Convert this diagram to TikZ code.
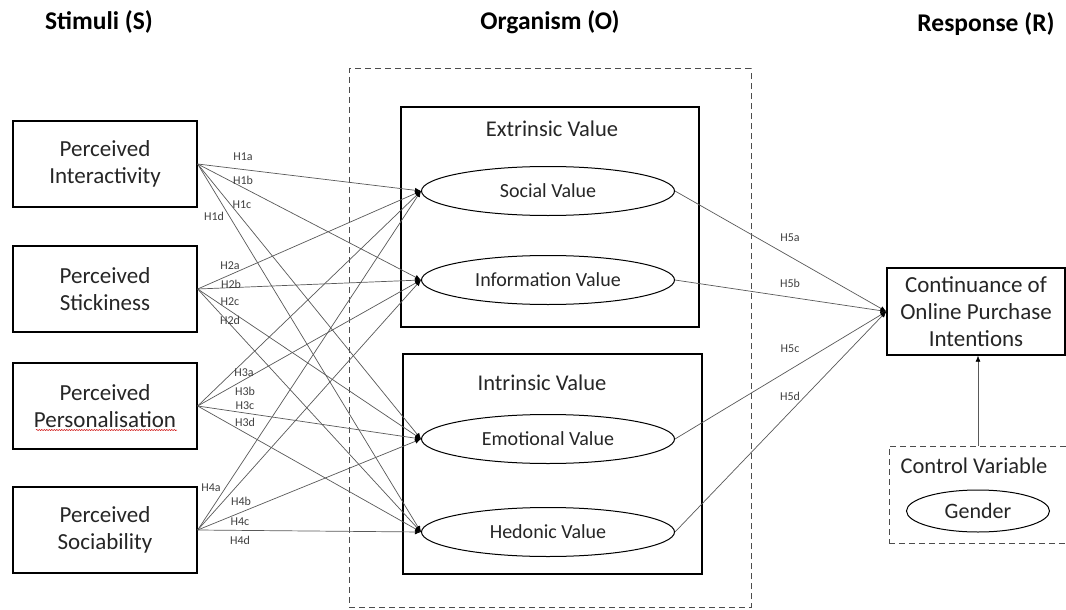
\documentclass[tikz,border=0pt]{standalone}
\usepackage{fontspec}
\setmainfont{Carlito}
\usetikzlibrary{arrows.meta,shapes.geometric,decorations.pathmorphing}
\begin{document}
\begin{tikzpicture}[x=1pt,y=-1pt,
  box/.style={draw,line width=1.3pt,minimum width=184pt,minimum height=86pt,align=center,
    font=\fontsize{23}{27}\selectfont,text=black!85,inner sep=0pt},
  val/.style={draw,ellipse,line width=1pt,minimum width=253pt,minimum height=49pt,
    font=\fontsize{20}{24}\selectfont,text=black!85,inner sep=0pt},
  grp/.style={draw,line width=1.3pt,minimum width=298pt,minimum height=220pt,inner sep=0pt},
  gtitle/.style={font=\fontsize{22.5}{26}\selectfont,text=black!85,inner sep=0pt},
  hlab/.style={font=\fontsize{12}{14}\selectfont,text=black!75,inner sep=0pt},
  arr/.style={draw=black!65,line width=0.7pt,-{Latex[length=6pt,width=5pt,black]}},
  ttl/.style={font=\bfseries\fontsize{25.5}{30}\selectfont,anchor=base,inner sep=0pt},
  dbox/.style={draw=black!70,line width=1pt,dash pattern=on 6pt off 4pt,inner sep=0pt}]
\useasboundingbox (0,0) rectangle (1066,610);
\clip (0,0) rectangle (1066,610);
\fill[white] (0,0) rectangle (1066,610);

% titles
\node[ttl] (tS) at (99,30) {Stimuli (S)};
\node[ttl] (tO) at (550,30) {Organism (O)};
\node[ttl] (tR) at (986,32) {Response (R)};

% organism frame and groups
\node[dbox,minimum width=402pt,minimum height=538pt] (ORG) at (550,338) {};
\node[grp] (EXB) at (550,217) {};
\node[gtitle] (EXT) at (552,129) {Extrinsic Value};
\node[grp,minimum width=299pt] (INB) at (552.5,464) {};
\node[gtitle] (INT) at (542,383) {Intrinsic Value};

% values
\node[val] (SV) at (548,191) {Social Value};
\node[val] (IV) at (548,280) {Information Value};
\node[val] (EV) at (548,439) {Emotional Value};
\node[val] (HV) at (548,532) {Hedonic Value};

% stimuli
\node[box] (PI) at (105,164) {Perceived\\Interactivity};
\node[box] (PS) at (105,289) {Perceived\\Stickiness};
\node[box] (PP) at (105,406) {Perceived\\Personalisation};
\node[box] (PO) at (105,530) {Perceived\\Sociability};
\draw[red!80!black,line width=0.5pt,decorate,decoration={snake,amplitude=0.6pt,segment length=2.5pt}]
  (36,430) -- (177,430);

% response
\node[box,minimum width=178pt,minimum height=87pt] (CO) at (976,311.5) {Continuance of\\Online Purchase\\Intentions};
\node[dbox,minimum width=180pt,minimum height=97pt] (CV) at (979,494.5) {};
\node[gtitle] (CVT) at (974,466) {Control Variable};
\node[draw,ellipse,line width=1pt,minimum width=143pt,minimum height=42pt,inner sep=0pt,
  font=\fontsize{22}{26}\selectfont,text=black!85] (GE) at (978,511) {Gender};
\draw[arr] (GE.north |- CV.north) -- (GE.north |- CO.south);

% stimulus -> value connectors
\foreach \s in {PI,PS,PP,PO}{
  \foreach \t in {SV,IV,EV,HV}{
    \draw[arr] (\s.east) -- (\t.west);
  }
}
% value -> response connectors
\foreach \t in {SV,IV,EV,HV}{
  \draw[arr] (\t.east) -- (CO.west);
}

% hypothesis labels
\node[hlab] (h1a) at (243,157) {H1a};
\node[hlab] (h1b) at (243,180) {H1b};
\node[hlab] (h1c) at (242,205) {H1c};
\node[hlab] (h1d) at (214,216) {H1d};
\node[hlab] (h2a) at (230,266) {H2a};
\node[hlab] (h2b) at (231,284) {H2b};
\node[hlab] (h2c) at (230,302) {H2c};
\node[hlab] (h2d) at (230,320) {H2d};
\node[hlab] (h3a) at (244,373) {H3a};
\node[hlab] (h3b) at (245,391) {H3b};
\node[hlab] (h3c) at (245,406) {H3c};
\node[hlab] (h3d) at (245,422) {H3d};
\node[hlab] (h4a) at (211,488) {H4a};
\node[hlab] (h4b) at (241,501) {H4b};
\node[hlab] (h4c) at (240,522) {H4c};
\node[hlab] (h4d) at (240,540) {H4d};
\node[hlab] (h5a) at (790,238) {H5a};
\node[hlab] (h5b) at (790,283) {H5b};
\node[hlab] (h5c) at (790,349) {H5c};
\node[hlab] (h5d) at (790,396) {H5d};
\end{tikzpicture}
\end{document}
